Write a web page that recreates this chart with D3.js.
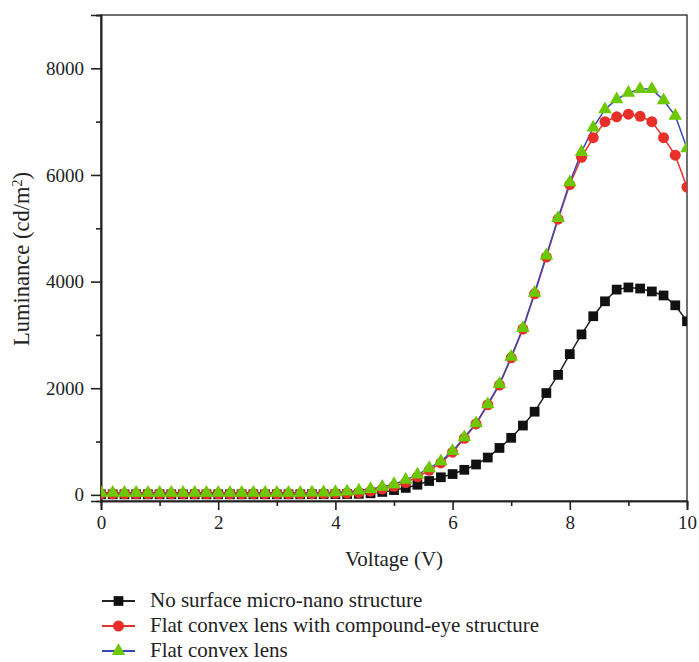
<!DOCTYPE html>
<html><head><meta charset="utf-8">
<script src="https://cdn.jsdelivr.net/npm/d3@7"></script>
<style>body{margin:0;background:#fff}svg{display:block}</style>
</head><body><svg id="c" width="699" height="662"></svg>
<script>
const voltage = [0,0.2,0.4,0.6,0.8,1,1.2,1.4,1.6,1.8,2,2.2,2.4,2.6,2.8,3,3.2,3.4,3.6,3.8,4,4.2,4.4,4.6,4.8,5,5.2,5.4,5.6,5.8,6,6.2,6.4,6.6,6.8,7,7.2,7.4,7.6,7.8,8,8.2,8.4,8.6,8.8,9,9.2,9.4,9.6,9.8,10];
const noStructure = [10,10,10,10,10,10,10,10,10,10,10,10,10,10,10,10,10,10,12,12,14,16,20,30,55,90,130,190,260,330,390,470,570,700,880,1070,1300,1560,1910,2250,2640,3010,3350,3630,3850,3890,3870,3815,3740,3555,3256];
const compoundEye = [20,20,20,20,20,20,20,20,20,20,20,20,20,20,20,20,20,20,22,24,28,35,45,70,110,160,230,340,460,600,800,1060,1330,1690,2060,2570,3110,3770,4460,5170,5820,6330,6700,7000,7090,7140,7100,7000,6700,6370,5770];
const flatConvex = [40,40,40,40,40,40,40,40,40,40,40,40,40,40,40,40,40,40,42,45,50,60,80,110,150,200,280,380,500,630,820,1080,1340,1700,2080,2590,3130,3790,4490,5190,5860,6430,6890,7230,7420,7540,7610,7610,7400,7110,6500];
const xTicks = [0,2,4,6,8,10];
const yTicks = [0,2000,4000,6000,8000];
const legendLabels = ["No surface micro-nano structure","Flat convex lens with compound-eye structure","Flat convex lens"];

const svg = d3.select("#c");
const L=101, R=687, T=15, B=501;
const x = d3.scaleLinear().domain([0,10]).range([L,R]);
const y = d3.scaleLinear().domain([-115,9000]).range([B,T]);
const font = "'Liberation Serif', 'Times New Roman', serif";

svg.append("defs").append("clipPath").attr("id","clip").append("rect")
  .attr("x",L).attr("y",T).attr("width",R-L).attr("height",B-T);

svg.append("rect").attr("x",L).attr("y",T).attr("width",R-L).attr("height",B-T)
  .attr("fill","none").attr("stroke","#222").attr("stroke-width",1.3);

const xAxis = d3.axisBottom(x).tickValues(xTicks).tickSize(9).tickPadding(6).tickFormat(d3.format("d"));
const xMinor = d3.axisBottom(x).tickValues([1,3,5,7,9]).tickSize(5).tickFormat("");
const yAxis = d3.axisLeft(y).tickValues(yTicks).tickSize(10).tickPadding(7).tickFormat(d3.format("d"));
const yMinor = d3.axisLeft(y).tickValues([1000,3000,5000,7000,9000]).tickSize(5).tickFormat("");
function style(g){
  g.select(".domain").attr("stroke","#222").attr("stroke-width",1.6);
  g.selectAll(".tick line").attr("stroke","#222").attr("stroke-width",1.6);
  g.selectAll(".tick text").attr("font-family",font).attr("font-size",19).attr("fill","#222");
}
svg.append("g").attr("transform",`translate(0,${B})`).call(xAxis).call(style);
svg.append("g").attr("transform",`translate(0,${B})`).call(xMinor).call(style);
svg.append("g").attr("transform",`translate(${L},0)`).call(yAxis).call(style);
svg.append("g").attr("transform",`translate(${L},0)`).call(yMinor).call(style);

svg.append("text").attr("x",(L+R)/2).attr("y",566).attr("text-anchor","middle")
  .attr("font-family",font).attr("font-size",21).attr("fill","#222").text("Voltage (V)");
const yl = svg.append("text").attr("transform","translate(29,259) rotate(-90)").attr("text-anchor","middle")
  .attr("font-family",font).attr("font-size",22.5).attr("fill","#222");
yl.append("tspan").text("Luminance (cd/m");
yl.append("tspan").attr("baseline-shift","super").attr("font-size",14).text("2");
yl.append("tspan").text(")");

const series = [
  {vals:noStructure, line:"#222", fill:"#111", sym:d3.symbolSquare, size:95},
  {vals:compoundEye, line:"#e8302a", fill:"#e8302a", sym:d3.symbolCircle, size:95},
  {vals:flatConvex, line:"#3548b8", fill:"#6cc800", sym:d3.symbolTriangle, size:80}
];
const plot = svg.append("g").attr("clip-path","url(#clip)");
const line = d3.line().x((d,i)=>x(voltage[i])).y(d=>y(d));
series.forEach(s=>{
  plot.append("path").datum(s.vals).attr("d",line).attr("fill","none")
    .attr("stroke",s.line).attr("stroke-width",1.5);
});
series.forEach(s=>{
  plot.selectAll(null).data(s.vals).enter().append("path")
    .attr("d",d3.symbol().type(s.sym).size(s.size))
    .attr("transform",(d,i)=>`translate(${x(voltage[i])},${y(d)})`)
    .attr("fill",s.fill);
});

const lg = svg.append("g");
series.forEach((s,i)=>{
  const yy = 601 + i*25;
  lg.append("line").attr("x1",102).attr("x2",135).attr("y1",yy).attr("y2",yy)
    .attr("stroke",s.line).attr("stroke-width",2);
  lg.append("path").attr("d",d3.symbol().type(s.sym).size(s.size)).attr("transform",`translate(118.5,${yy})`).attr("fill",s.fill);
  lg.append("text").attr("x",150).attr("y",yy+6).attr("font-family",font).attr("font-size",21)
    .attr("fill","#222").text(legendLabels[i]);
});
</script></body></html>
